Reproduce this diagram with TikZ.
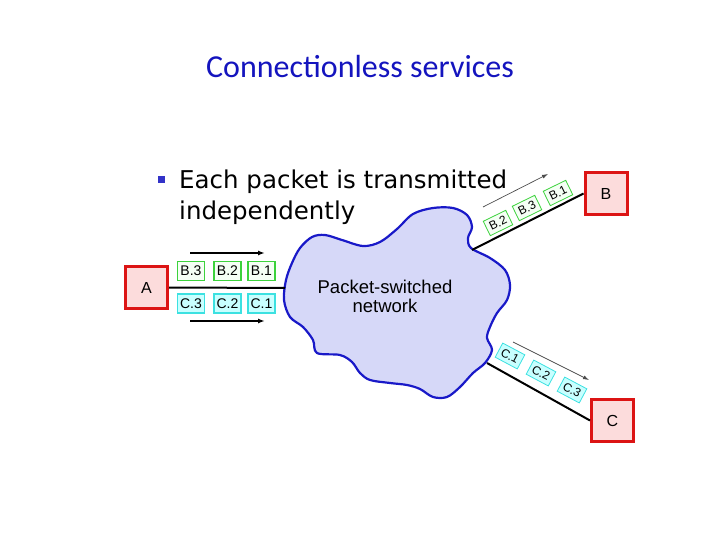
\documentclass[tikz,border=0pt]{standalone}
\usepackage{fontspec}
\setmainfont{Liberation Sans}
\newfontfamily\titlefont{Carlito}
\newfontfamily\verd{DejaVu Sans}
\usetikzlibrary{arrows.meta,calc}
\definecolor{titleblue}{RGB}{20,20,190}
\definecolor{bulletblue}{RGB}{50,50,200}
\definecolor{cloudfill}{RGB}{214,216,248}
\definecolor{cloudline}{RGB}{25,25,200}
\definecolor{endred}{RGB}{220,20,20}
\definecolor{endfill}{RGB}{252,220,220}
\definecolor{pgreen}{RGB}{60,210,60}
\definecolor{pgfill}{RGB}{245,255,245}
\definecolor{pcyan}{RGB}{60,225,225}
\definecolor{pcfill}{RGB}{200,255,255}
\begin{document}
\begin{tikzpicture}[x=1pt,y=-1pt,
  endbox/.style={draw=endred, fill=endfill, line width=3pt, minimum width=42pt, minimum height=42pt, inner sep=0pt, font=\fontsize{16}{18}\selectfont},
  pktB/.style={draw=pgreen, fill=pgfill, line width=1.6pt, minimum width=27pt, minimum height=19pt, inner sep=0pt, font=\fontsize{14}{15}\selectfont},
  pktC/.style={draw=pcyan, fill=pcfill, line width=1.6pt, minimum width=27pt, minimum height=19pt, inner sep=0pt, font=\fontsize{14}{15}\selectfont},
  rpktB/.style={draw=pgreen, fill=pgfill, line width=0.8pt, minimum width=25pt, minimum height=16pt, inner sep=0pt, font=\fontsize{12}{13}\selectfont},
  rpktC/.style={draw=pcyan, fill=pcfill, line width=0.8pt, minimum width=25pt, minimum height=16pt, inner sep=0pt, font=\fontsize{12}{13}\selectfont},
  link/.style={draw=black, line width=2pt},
  flow/.style={draw=black, line width=1.8pt, -{Latex[length=7pt,width=5pt]}},
  thinflow/.style={draw=black!70, line width=0.7pt, -{Latex[length=6pt,width=4pt]}}]
\useasboundingbox (0,0) rectangle (720,540);
% title
\node[font=\titlefont\fontsize{32}{36}\selectfont, text=titleblue] (title) at (360,67) {Connectionless services};
% bullet
\node[fill=bulletblue, minimum size=7pt, inner sep=0pt] (bul) at (161,180) {};
\node[font=\verd\fontsize{24.5}{31}\selectfont, anchor=north west, align=left, inner sep=0pt] (txt) at (179,169.5) {Each packet is transmitted\\independently};
% cloud
\draw[draw=cloudline, fill=cloudfill, line width=2.2pt] plot[smooth cycle, tension=0.55] coordinates {
 (490,258) (505,270) (510,285) (507,300) (497,313) (490,327) (487,338) (492,350) (485,363)
 (473,373) (460,387) (447,397) (433,397) (420,389) (407,385) (390,383) (370,380) (360,373)
 (352,362) (340,355) (317,353) (313,340) (303,327) (290,317) (284,300) (286,280) (292,263)
 (300,248) (312,237) (325,235) (342,240) (363,246) (380,242) (397,229) (413,214) (433,208)
 (453,208) (467,215) (472,227) (468,238) (471,248)};
\node[align=center, font=\fontsize{18.5}{19}\selectfont] (net) at (385,296) {Packet-switched\\network};
\coordinate (cA) at (285,288);
\coordinate (cB) at (472,250);
\coordinate (cC) at (487,363);
% end systems
\node[endbox] (A) at (146.5,287.5) {A};
\node[endbox] (B) at (606,193.5) {B};
\node[endbox] (C) at (612.5,420.5) {C};
% links
\draw[link] (A.east) -- (cA);
\draw[link] (cB) -- (B.west);
\draw[link] (cC) -- (C.west);
% left packets
\node[pktB] (b3) at (191,271) {B.3};
\node[pktB] (b2) at (227.5,271) {B.2};
\node[pktB] (b1) at (261.5,271) {B.1};
\node[pktC] (c3) at (191,303.5) {C.3};
\node[pktC] (c2) at (227.5,303.5) {C.2};
\node[pktC] (c1) at (261.5,303.5) {C.1};
\coordinate (ta1) at (190,253);
\coordinate (ta2) at (265,253);
\coordinate (tb1) at (190,321);
\coordinate (tb2) at (265,321);
\draw[flow] (ta1) -- (ta2);
\draw[flow] (tb1) -- (tb2);
% B branch packets
\node[rpktB, rotate=26] (rb2) at (498,223) {B.2};
\node[rpktB, rotate=26] (rb3) at (527,208) {B.3};
\node[rpktB, rotate=26] (rb1) at (558,193) {B.1};
\coordinate (ab1) at (483,207);
\coordinate (ab2) at (548,174);
\draw[thinflow] (ab1) -- (ab2);
% C branch packets
\node[rpktC, rotate=-28] (rc1) at (510,356) {C.1};
\node[rpktC, rotate=-28] (rc2) at (541,373) {C.2};
\node[rpktC, rotate=-28] (rc3) at (572,390) {C.3};
\coordinate (ac1) at (513,342);
\coordinate (ac2) at (589,380);
\draw[thinflow] (ac1) -- (ac2);
\end{tikzpicture}
\end{document}
